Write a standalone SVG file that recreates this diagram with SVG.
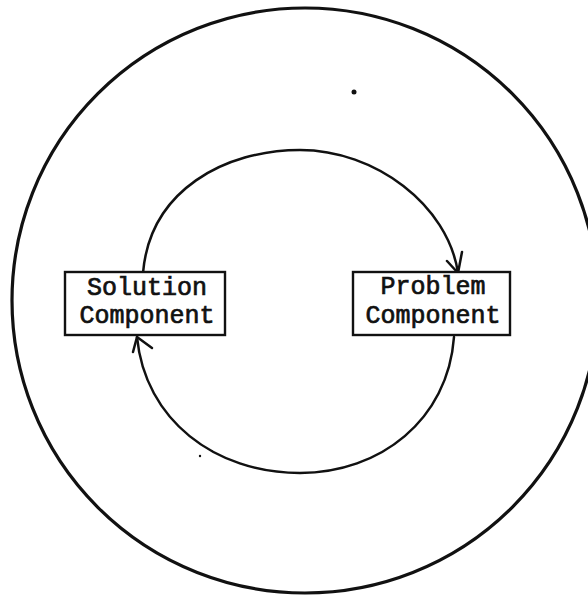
<svg xmlns="http://www.w3.org/2000/svg" width="588" height="595" viewBox="0 0 588 595">
<style>
.ln{fill:none;stroke:#111;stroke-width:2.5;stroke-linecap:round;stroke-linejoin:round}
.box{fill:#fff;stroke:#111;stroke-width:2.4}
.t{font-family:"Liberation Mono","DejaVu Sans Mono",monospace;font-size:25px;fill:#111;stroke:#111;stroke-width:0.7;text-anchor:middle}
.dot{fill:#111}
</style>
<rect width="588" height="595" fill="#fff"/>
<ellipse id="outer" cx="305" cy="300.5" rx="293" ry="292.5" fill="none" stroke="#111" stroke-width="3.2"/>
<g id="connectors">
<path class="ln" d="M143,273 C150,190 225,150 300,150 C375,150 448,205 458,273"/>
<polyline class="ln" points="447,261 458,273 462,252"/>
<path class="ln" d="M454,337 C448,420 380,473 300,473 C215,473 145,420 137,337"/>
<polyline class="ln" points="133,352 137,337 152,348"/>
</g>
<g id="solution">
<rect class="box" x="65" y="272" width="160" height="63"/>
<text class="t" x="147" y="295">Solution</text>
<text class="t" x="147" y="323">Component</text>
</g>
<g id="problem">
<rect class="box" x="353" y="272" width="157" height="63"/>
<text class="t" x="433" y="294">Problem</text>
<text class="t" x="433" y="323">Component</text>
</g>
<circle class="dot" cx="354" cy="92" r="2.5"/>
<circle class="dot" cx="200" cy="456" r="1.2"/>
<circle class="dot" cx="212" cy="451" r="0.8"/>
</svg>
